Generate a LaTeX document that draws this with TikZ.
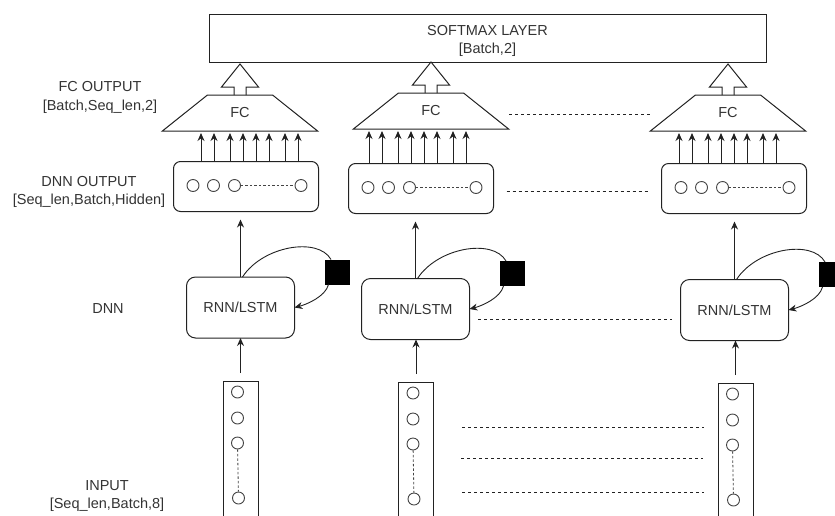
\documentclass[tikz,border=0pt]{standalone}
\usepackage{fontspec}
\setmainfont{Liberation Sans}
\usetikzlibrary{shapes.geometric,arrows.meta,calc}
\definecolor{ink}{HTML}{222222}
\definecolor{txt}{HTML}{333333}
\definecolor{ring}{HTML}{444444}
\begin{document}
\begin{tikzpicture}[x=1pt,y=-1pt,
  every node/.style={font=\fontsize{14.5}{18.5}\selectfont, text=txt},
  softbox/.style={draw=ink, line width=1pt, minimum width=557pt, minimum height=48pt, inner sep=0pt},
  fcshape/.style={draw=ink, line width=1pt, trapezium, trapezium stretches=true, trapezium angle=37.5,
                  minimum width=156pt, minimum height=36pt, inner sep=0pt, outer sep=0pt},
  dnnbox/.style={draw=ink, line width=1pt, rounded corners=7pt, minimum width=145pt, minimum height=50pt, inner sep=0pt, outer sep=0pt},
  rnnbox/.style={draw=ink, line width=1pt, rounded corners=9pt, minimum width=108pt, minimum height=61pt, inner sep=0pt, outer sep=0pt},
  sqbox/.style={fill=black, minimum size=25pt, inner sep=0pt, outer sep=0pt},
  unit/.style={circle, draw=ring, line width=0.9pt, minimum size=12pt, inner sep=0pt},
  inbox/.style={draw=ink, line width=1pt, minimum width=35pt, minimum height=145pt, anchor=north, inner sep=0pt, outer sep=0pt},
  arr/.style={draw=ink, line width=1pt, -{Stealth[length=8pt,width=7pt]}},
  hollow/.style={draw=ink, line width=1pt, line join=miter},
  dashline/.style={draw=ink, line width=0.8pt, dash pattern=on 3pt off 3pt},
  dotline/.style={draw=ring, line width=0.8pt, dash pattern=on 2.5pt off 2pt},
  lbl/.style={align=center, inner sep=0pt}
]
\useasboundingbox (0,0) rectangle (835,515);
\clip (0,0) rectangle (835,515);

% softmax layer
\node[softbox] (softmax) at (487.5,38) {};
\node[lbl] (softlbl) at (487.5,41) {SOFTMAX LAYER\\{}[Batch,2]};

% side labels
\node[lbl] (lfc)  at (100,97.5) {FC OUTPUT\\{}[Batch,Seq\_len,2]};
\node[lbl] (ldnno) at (89,192) {DNN OUTPUT\\{}[Seq\_len,Batch,Hidden]};
\node[lbl] (ldnn) at (108,309) {DNN};
\node[lbl] (lin)  at (107,496) {INPUT\\{}[Seq\_len,Batch,8]};

% columns
\node[fcshape] (fc1) at (240,113) {FC};
\node[fcshape] (fc2) at (431,111) {FC};
\node[fcshape] (fc3) at (728,113) {FC};

\node[dnnbox] (dnn1) at (246,186.5) {};
\node[dnnbox] (dnn2) at (421,188.5) {};
\node[dnnbox] (dnn3) at (734,188.5) {};

\node[rnnbox] (rnn1) at (240.5,307.5) {RNN/LSTM};
\node[rnnbox] (rnn2) at (415.5,309) {RNN/LSTM};
\node[rnnbox] (rnn3) at (734.5,310) {RNN/LSTM};

\node[inbox] (in1) at (240.5,381) {};
\node[inbox] (in2) at (416,382) {};
\node[inbox] (in3) at (735.5,383) {};

\foreach \c in {1,2,3} {
  % hollow arrow FC -> softmax
  \draw[hollow] ([xshift=-6pt]fc\c.north) -- ++(0,-8) -- ++(-12.5,0) -- ++(18.5,-23)
                -- ++(18.5,23) -- ++(-12.5,0) -- ++(0,8);
  % units in DNN output
  \node[unit] (u\c a) at ($(dnn\c.west)+(19.5,-1)$) {};
  \node[unit] (u\c b) at ($(dnn\c.west)+(40,-1)$) {};
  \node[unit] (u\c c) at ($(dnn\c.west)+(61,-1)$) {};
  \node[unit] (u\c d) at ($(dnn\c.west)+(127.5,-1)$) {};
  \draw[dotline] (u\c c) -- (u\c d);
  % recurrent square
  \node[sqbox] (sq\c) at ($(rnn\c.center)+(96.5,-35.5)$) {};
  \draw[ink, line width=0.9pt] ([xshift=2pt]rnn\c.north) .. controls +(20,-31) and +(-13,-23) .. ([xshift=-6pt]sq\c.north);
  \draw[ink, line width=0.9pt, -{Stealth[length=8pt,width=7pt]}] ([xshift=4pt]sq\c.south west) .. controls +(-3,12) and +(12,-3) .. (rnn\c.east);
  % RNN -> DNN output
  \draw[arr, shorten >=8pt] (rnn\c.north) -- (rnn\c.north |- dnn\c.south);
  % input -> RNN
  \draw[arr, shorten <=8pt] (in\c.north) -- (rnn\c.south -| in\c.north);
  % input units
  \node[unit] (v\c a) at ($(in\c.north)+(-3,11)$) {};
  \node[unit] (v\c b) at ($(in\c.north)+(-3,37)$) {};
  \node[unit] (v\c c) at ($(in\c.north)+(-3,62)$) {};
  \node[unit] (v\c d) at ($(in\c.north)+(-2,117)$) {};
  \draw[dotline] (v\c c) -- (v\c d);
}

% DNN output -> FC arrows
\foreach \c/\a in {1/201, 2/369, 3/679} {
  \foreach \dx in {0,13,29,42,55,68,84,97} {
    \coordinate (p) at ({\a+\dx},0);
    \draw[arr, shorten >=2pt] (dnn\c.north -| p) -- (fc\c.south -| p);
  }
}

% dashed continuation lines
\coordinate (fcdA) at (509,114);
\coordinate (fcdB) at (651,114);
\draw[dashline] (fcdA) -- (fcdB);
\draw[dashline, shorten <=13pt, shorten >=13pt] ([yshift=-2.5pt]dnn2.east) -- ([yshift=-2.5pt]dnn3.west);
\draw[dashline, shorten <=8.5pt, shorten >=8.5pt] ([yshift=-10pt]rnn2.east) -- ([yshift=-9pt]rnn3.west);
\coordinate (ia1) at (462,427); \coordinate (ib1) at (704,427);
\coordinate (ia2) at (461,458); \coordinate (ib2) at (703,458);
\coordinate (ia3) at (462,492); \coordinate (ib3) at (704,492);
\draw[dashline] (ia1) -- (ib1);
\draw[dashline] (ia2) -- (ib2);
\draw[dashline] (ia3) -- (ib3);
\end{tikzpicture}
\end{document}
